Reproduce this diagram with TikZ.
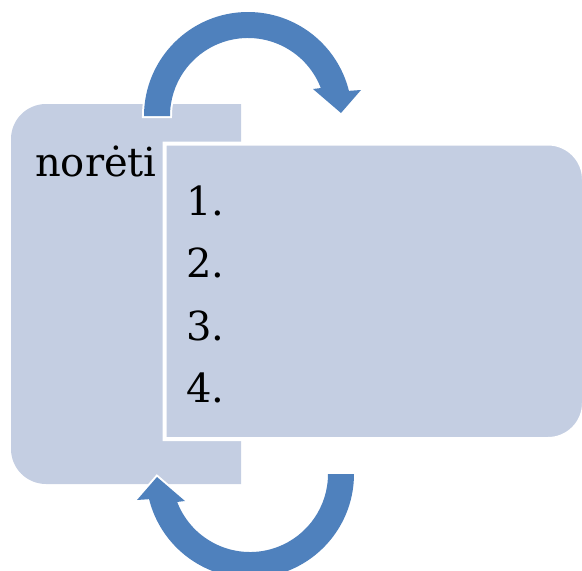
\documentclass[tikz,border=0pt]{standalone}
\usepackage{fontspec}
\setmainfont{DejaVu Serif}
\definecolor{boxblue}{RGB}{196,206,226}
\definecolor{arrowblue}{RGB}{79,129,189}

\begin{document}
\begin{tikzpicture}[x=1pt,y=-1pt,
    boxshape/.style={fill=boxblue},
    listbox/.style={fill=boxblue, draw=white, line width=4pt},
    cyclearrow/.style={fill=arrowblue, preaction={draw=white, line width=4pt, line join=miter}},
    label/.style={anchor=base west, inner sep=0pt, font=\fontsize{40}{48}\selectfont}]
   \useasboundingbox (0,0) rectangle (582,571);

   % left box, rounded on the left side
   \path[boxshape] (241,104) -- (46,104) arc[start angle=270, end angle=180, radius=35]
      -- (11,449) arc[start angle=180, end angle=90, radius=35] -- (241,484) -- cycle;

   % right box, rounded on the right side
   \draw[listbox] (164.5,143.5) -- (548,143.5) arc[start angle=270, end angle=360, radius=36]
      -- (584,403) arc[start angle=0, end angle=90, radius=36] -- (164.5,439) -- cycle;

   \node[label]                (verb)  at (35,176)  {norėti} ; %
   \node[label]                (item1) at (186,215) {1.} ; %
   \node[label]                (item2) at (186,277) {2.} ; %
   \node[label]                (item3) at (186,340) {3.} ; %
   \node[label]                (item4) at (186,402) {4.} ; %

   % the two circular arrows, the lower one turned round
   \foreach \rot in {0,180} {
      \path[cyclearrow, rotate around={\rot:(249,295)}]
         (144,116) arc[start angle=180, end angle=346, radius=104]
         -- (361,90) -- (341,113) -- (313,89)
         -- ([shift={(248,116)}]339:78) arc[start angle=339, end angle=180, radius=78]
         -- cycle ;
   }

\end{tikzpicture}
\end{document}
